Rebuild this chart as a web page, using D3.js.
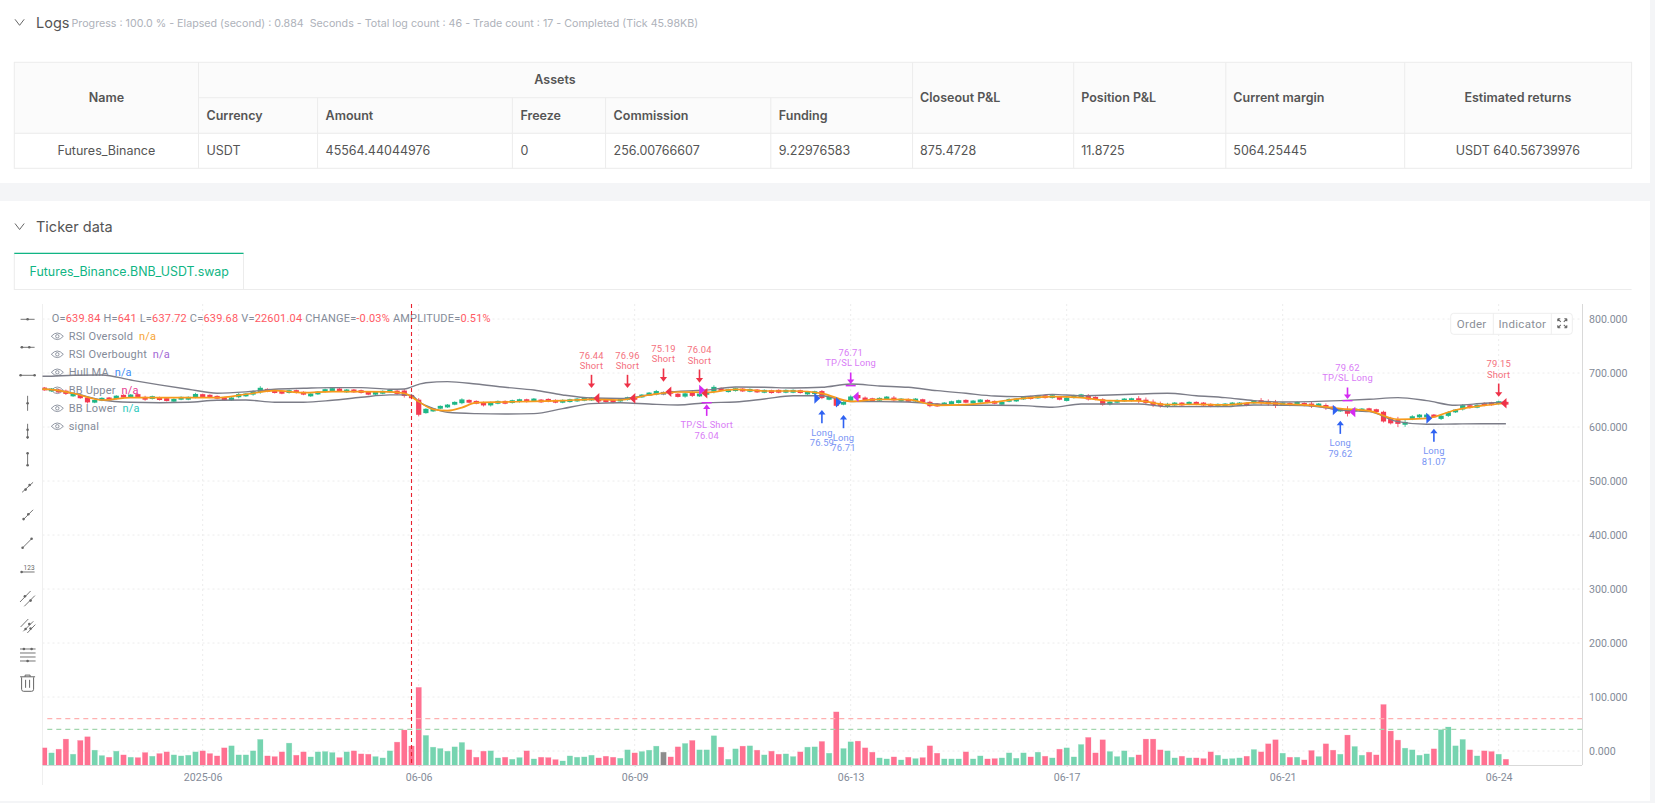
<!DOCTYPE html>
<html>
<head>
<meta charset="utf-8">
<style>
  html, body { margin: 0; padding: 0; background: #f4f5f7; }
  svg { display: block; }
  text { white-space: pre; }
</style>
<script src="https://cdn.jsdelivr.net/npm/d3@7"></script>
</head>
<body>
<div id="page"></div>
<script>
// table at the top of the page
const progressText = "Progress : 100.0 % - Elapsed (second) : 0.884  Seconds - Total log count : 46 - Trade count : 17 - Completed (Tick 45.98KB)";
const assetColumns = ["Currency", "Amount", "Freeze", "Commission", "Funding"];
const assetValues = ["USDT", "45564.44044976", "0", "256.00766607", "9.22976583"];
const sideColumns = ["Closeout P&L", "Position P&L", "Current margin"];
const sideValues = ["875.4728", "11.8725", "5064.25445"];

// x axis
const tickIndex = [22, 52, 82, 112, 142, 172, 202];
const tickLabels = ["2025-06", "06-06", "06-09", "06-13", "06-17", "06-21", "06-24"];
const priceTicks = [0, 100, 200, 300, 400, 500, 600, 700, 800];
const rsiOverbought = 60;
const rsiOversold = 40;
const hoverIndex = 51;

// R = down, G = up, N = flat
const barSides = ("RGRRGRRGGRGRGRRGRRGGGGRRRRGGGGGRRRGRRGGGGRGRRRGGGR" +
  "RRRGGGGGGRRRGGRGGRGRRRGGGGGRRRGGRGGGNRRGRGGGRGGRGRGRRGGR" +
  "GGRGRGGRRRGGRGRGRRRGGGRGGRRGGGGRGRGRGGGRRRGGGGRRRRGGRGR" +
  "RRGGGGRGRRRGRGRRGRRGRGGRRRRRGGGGRGGGGRGRRGR").split("");

// volume, thousands
const volumes = [
  20.4,14.4,18.8,30.8,12.8,29.2,33.6,17.6,11.2,9.2,16.4,12,9.2,8.8,14.8,10.4,13.6,15.6,12,10.8,
  11.6,15.6,16.8,13.6,10.8,20.4,22.8,12,12,16.8,30.4,10.8,10,15.6,26,11.6,15.6,9.6,15.6,16,
  14.8,8.8,15.6,16.8,13.2,12.8,10,8.4,16.8,27.2,
  41.6,22.6,92.4,35.2,21.2,19.6,16.4,21.6,26.8,18,9.2,16.4,16.8,8.4,9.2,6.8,8.8,16.8,7.2,9.2,
  8.8,6.4,4.8,10.8,9.2,9.6,11.6,8.4,10.4,9.2,8,18,14.4,16,17.6,22.4,15.2,9.6,21.6,25.6,
  29.2,18,18,34.8,21.2,6.8,19.2,22.4,22.8,17.6,12,16.4,12.8,13.2,10,15.6,
  21.2,21.6,28,14,63.2,19.6,27.6,28.4,20.4,15.2,8.4,7.2,9.6,6,9.2,7.6,8.8,22.8,14,7.2,
  7.2,7.2,15.6,7.2,10.8,7.2,7.6,8.4,14.4,8,14.4,9.6,15.2,10.4,8.4,18.8,20.4,9.6,24.4,32.8,
  14.4,30,16,10,16.8,9.2,12,30.8,30.8,18,16.8,8.4,10.4,8.4,8.4,
  7.6,15.6,11.6,7.2,7.6,8.4,10.4,18.4,15.6,25.2,30,14,9.2,9.2,6,17.2,10,25.2,17.6,12.8,
  35.6,22,11.6,15.2,12,72,40.4,29.6,20,18,11.6,13.2,19.2,42,45.2,22.8,30.4,18,10.8,16.8,
  16,12.8,6.8
];

// candle centre price
const candleMid = [
  670.5,668.6,666.8,664.3,659.4,656.3,650.1,647.7,651.4,652,
  655,657,657.5,658.2,653.2,654.5,652.6,650.8,649.5,653.2,
  653.2,658.2,658.2,657,655,652,652,658.2,659.4,663,
  668.6,668,665.6,664.3,665.6,665.6,662.5,659.4,663,667.4,
  669.3,668.6,666.8,666.8,665.6,662.5,662.5,664.3,666.8,664.3,
  662.5,656.3,636.6,629.7,631.5,636.5,638.9,643.9,647.6,647.6,
  645.7,642.6,642.6,645.7,645.7,647,648.8,648.8,650,648.2,
  649.4,647.6,647.6,648.8,650,651.3,651.9,650,648.8,647.6,
  650,652.5,653.1,657.4,661.1,663.6,662.4,664.2,658.7,659.3,
  661.1,659.3,662.4,669.8,669.8,667.3,669.2,668.5,667.9,666.7,
  666.1,665.5,666.1,666.1,666.1,665.5,663,663.6,660,653.1,
  646.3,643.9,652.5,656.2,651.9,650.6,651.3,653.7,651.9,650,
  649.4,650,648.8,642.6,640.8,642.6,645.1,647,647.6,646.3,
  648.2,647.6,645.7,643.9,649.4,650,653.7,654.4,655.6,656.2,
  656.2,653.1,651.3,656.2,657.4,655,653.1,646.3,644.5,647.6,
  650,650.6,650.6,647.6,643.9,641.4,640.2,642.6,642.6,643.9,
  643.9,642.6,640.2,640.2,640.8,642.6,642.6,642,646.3,647,
  645.1,642.6,642.6,642,643.9,642,640.8,640.8,637.7,635.2,
  631.5,629,631.5,631.5,632,630.3,619.2,611.8,609.3,606.8,
  617.3,620.4,620.4,620.4,618,624.1,629.7,636.5,637.7,638.3,
  642,643,645,644
];
const candleBody = [
  5,3,5,6,3,6,9,4,3,3, 6,4,3,3,5,3,4,4,3,4, 3,6,4,3,4,5,5,6,3,6, 8,3,3,4,5,3,5,3,5,5,
  4,3,4,4,4,4,3,3,5,6, 10,6,28,8,5,5,4,5,7,4, 3,5,5,3,3,2,3,5,3,3, 3,2,2,4,3,3,4,3,4,3,
  3,5,4,5,5,6,5,3,6,6, 7,5,5,9,5,2,5,5,5,4, 3,4,3,3,3,4,5,5,13,4, 14,5,8,6,5,4,2,2,3,2,
  3,2,3,8,4,2,2,2,5,2, 3,2,3,3,5,2,5,3,5,3, 2,5,6,3,6,8,4,10,5,3, 5,3,4,6,6,5,5,2,3,2,
  3,2,4,3,2,2,2,3,5,4, 6,7,4,3,3,2,5,3,6,5, 4,9,5,3,4,3,18,10,7,5, 5,3,4,5,6,7,5,8,5,3,
  5,4,3,3
];
const candleWick = [
  1,1,1,2,1,1,2,1,1,1, 1,1,1,1,2,1,1,1,1,1, 1,2,1,1,1,1,1,2,1,2, 3,1,1,1,1,1,1,1,1,1,
  1,1,1,1,1,1,1,1,1,2, 3,2,3,1,1,1,1,1,2,1, 1,2,2,1,1,1,1,1,1,1, 1,1,1,1,1,1,1,1,1,1,
  1,1,1,1,1,2,1,1,1,2, 2,1,1,3,1,1,1,1,1,1, 1,1,1,1,1,1,1,1,2,1, 2,1,2,2,2,1,1,1,3,1,
  1,1,1,2,1,1,1,1,1,1, 1,1,1,1,1,1,1,1,1,1, 1,1,1,1,1,2,1,2,2,1, 1,1,4,4,4,3,2,1,1,1,
  1,1,1,1,1,1,1,1,1,4, 3,4,1,1,1,1,3,1,3,1, 1,5,1,1,1,1,2,2,6,4, 2,1,3,1,2,2,1,2,1,1,
  1,1,1,1
];

// indicator lines as [bar, price]
const bbUpper = [[-1,694],[0,694],[4,695.8],[8,696.4],[12,687],[16,678],[20,670],[24,662.5],[28,665],[32,670],[36,671.7],[40,673],[44,673],[48,670],[50,670.5],[52,679],[53,682],[56,684],[60,679.6],[64,673.5],[68,668.5],[72,659.3],[76,653.7],[80,653],[84,659.3],[88,666],[92,668.5],[96,674],[100,673.5],[104,672.2],[108,673.5],[112,679.6],[116,676],[120,673.5],[124,667.3],[128,662.4],[132,657.4],[136,656.2],[140,660.5],[144,658],[148,659.3],[152,661],[156,662.4],[160,658],[164,654.4],[168,648.8],[172,646.3],[176,647],[180,648.8],[184,651.3],[188,654.4],[192,648.8],[196,640.2],[200,644],[203,646]];
const bbLower = [[-1,670],[0,670],[4,662.5],[8,650],[12,645.8],[16,645],[20,645.8],[24,649.5],[28,650],[32,645.8],[36,645.8],[40,649.5],[44,655],[48,659.4],[50,659.4],[51,659],[52,647],[54,634.6],[56,627.2],[60,624.7],[64,624],[68,624.7],[72,634],[76,643.2],[80,645],[84,642.6],[88,640.8],[92,645],[96,646.3],[100,651.9],[104,658],[108,658],[112,647],[116,647],[120,646.3],[124,642.6],[128,640.2],[132,640.2],[136,639.5],[140,636.5],[144,642.6],[148,642.6],[152,642.6],[156,637.7],[160,637.7],[164,637.7],[168,640.8],[172,640.2],[176,639],[180,631.5],[184,628.4],[188,610],[192,605],[196,605.6],[200,606],[203,606]];
const hullMa = [[-1,670],[0,670],[4,662.5],[8,650],[12,654.5],[16,654.5],[20,654.5],[24,654.5],[28,660.6],[32,667.4],[36,663.7],[40,665.6],[44,665.6],[48,665],[50,662.5],[52,647],[54,632.7],[56,630.3],[58,636],[60,645],[64,646.3],[68,647.6],[72,648.8],[76,651.3],[80,650],[84,659.3],[88,664.8],[92,664.2],[96,669.8],[100,666.7],[104,666.7],[108,662.4],[112,647.6],[116,651.3],[120,650.6],[124,640.2],[128,641.4],[132,646.3],[136,653.1],[140,656.2],[144,654.4],[148,648.8],[152,648.2],[156,641.4],[160,642],[164,640.8],[168,645],[172,642.6],[176,640.2],[180,634],[184,629.7],[188,614.3],[192,616],[196,631.5],[200,640],[203,644]];

// trades: arrow bar, kind, price at the arrow tip, fill price, text lines
const tradeBars = [76, 81, 86, 91, 92, 108, 111, 112, 180, 181, 193, 202];
const tradeKinds = ["short", "short", "short", "short", "tpShort", "long", "long", "tpLong", "long", "tpLong", "long", "short"];
const tradeTips = [672.2, 672.2, 683.9, 682, 645, 631.5, 622.2, 676.5, 611.7, 648.7, 596.9, 656];
const tradeFills = [653.1, 653.1, 665.4, 662.4, 668.5, 653.1, 645.7, 656.1, 631.5, 627.8, 616, 643.9];
const tradeInner = ["Short", "Short", "Short", "Short", "TP/SL Short", "Long", "Long", "TP/SL Long", "Long", "TP/SL Long", "Long", "Short"];
const tradeOuter = ["76.44", "76.96", "75.19", "76.04", "76.04", "76.59", "76.71", "76.71", "79.62", "79.62", "81.07", "79.15"];

// hover legend
const ohlcLabels = ["O=", " H=", " L=", " C=", " V=", " CHANGE=", " AMPLITUDE="];
const ohlcValues = ["639.84", "641", "637.72", "639.68", "22601.04", "-0.03%", "0.51%"];
const legendNames = ["RSI Oversold", "RSI Overbought", "Hull MA", "BB Upper", "BB Lower", "signal"];
const legendValues = ["n/a", "n/a", "n/a", "n/a", "n/a", ""];
const legendColors = ["#f7a535", "#a267d4", "#3f8cf5", "#e6398f", "#2cc9bd", "#888"];

const INTER = "Inter, 'Noto Sans', sans-serif";
const ROBOTO = "Roboto, 'Noto Sans', sans-serif";
const GREY = "#848b99";

const tradeStyle = {
  short:   { mark: "#ee3248", label: "#f4707d" },
  long:    { mark: "#2f62f2", label: "#7894f4" },
  tpShort: { mark: "#d42bf2", label: "#d97cf6" },
  tpLong:  { mark: "#d42bf2", label: "#d97cf6" }
};

const svg = d3.select("#page").append("svg")
  .attr("width", 1655)
  .attr("height", 803);

function label(parent, x, y, str, opts) {
  const o = opts || {};
  return parent.append("text")
    .attr("x", x)
    .attr("y", y)
    .attr("dy", "0.35em")
    .attr("text-anchor", o.anchor || "start")
    .attr("font-family", o.family || INTER)
    .attr("font-size", o.size || 12.5)
    .attr("font-weight", o.weight || 400)
    .attr("letter-spacing", o.spacing || 0)
    .attr("fill", o.fill || "#555")
    .text(str);
}

// page panels
svg.append("rect").attr("width", 1655).attr("height", 803).attr("fill", "#f4f5f7");
svg.append("rect").attr("width", 1650).attr("height", 183).attr("fill", "#fff");
svg.append("rect").attr("y", 201).attr("width", 1650).attr("height", 600).attr("fill", "#fff");

function chevron(cx, cy) {
  svg.append("path")
    .attr("d", `M${cx - 4.6},${cy - 3} L${cx},${cy + 3} L${cx + 4.6},${cy - 3}`)
    .attr("fill", "none")
    .attr("stroke", "#666")
    .attr("stroke-width", 1);
}

chevron(19.6, 22.3);
chevron(19.6, 226.5);
label(svg, 36, 22.7, "Logs", { size: 14.5, fill: "#555" });
label(svg, 71.5, 23.3, progressText, { size: 10.7, fill: "#aeb2ba" });
label(svg, 36, 227, "Ticker data", { size: 14.5, fill: "#555" });

// assets table
const table = svg.append("g");
const colEdges = [14.3, 198.5, 317.6, 512.4, 605.6, 770.8, 912.6, 1073.7, 1225.8, 1404.7, 1631.6];
table.append("rect").attr("x", 14.3).attr("y", 62.3).attr("width", 1617.3).attr("height", 71).attr("fill", "#fbfbfb");
table.append("rect").attr("x", 14.3).attr("y", 62.3).attr("width", 1617.3).attr("height", 106).attr("fill", "none").attr("stroke", "#ececec");
table.append("line").attr("x1", 198.5).attr("x2", 912.6).attr("y1", 97.7).attr("y2", 97.7).attr("stroke", "#ececec");
table.append("line").attr("x1", 14.3).attr("x2", 1631.6).attr("y1", 133.3).attr("y2", 133.3).attr("stroke", "#ececec");
colEdges.slice(1, -1).forEach((x, i) => {
  // asset sub columns only start under the Assets header
  const top = (i >= 1 && i <= 4) ? 97.7 : 62.3;
  table.append("line").attr("x1", x).attr("x2", x).attr("y1", top).attr("y2", 168.3).attr("stroke", "#ececec");
});

const headStyle = { weight: 600, fill: "#555" };
label(table, 106.4, 97.7, "Name", { ...headStyle, anchor: "middle" });
label(table, 555, 79.7, "Assets", { ...headStyle, anchor: "middle" });
label(table, 106.4, 150.7, "Futures_Binance", { anchor: "middle" });
assetColumns.forEach((c, i) => {
  label(table, colEdges[i + 1] + 8, 115.7, c, headStyle);
  label(table, colEdges[i + 1] + 8, 150.7, assetValues[i]);
});
sideColumns.forEach((c, i) => {
  label(table, colEdges[i + 6] + 7.5, 97.7, c, headStyle);
  label(table, colEdges[i + 6] + 7.5, 150.7, sideValues[i]);
});
label(table, 1517.9, 97.7, "Estimated returns", { ...headStyle, anchor: "middle" });
label(table, 1517.9, 150.7, "USDT 640.56739976", { anchor: "middle" });

// tab
svg.append("line").attr("x1", 14.3).attr("x2", 1631.6).attr("y1", 289.5).attr("y2", 289.5).attr("stroke", "#ececec");
svg.append("rect").attr("x", 14.3).attr("y", 253.3).attr("width", 229.2).attr("height", 36.2).attr("fill", "#fff").attr("stroke", "#ececec");
svg.append("line").attr("x1", 14.3).attr("x2", 243.5).attr("y1", 253.3).attr("y2", 253.3).attr("stroke", "#10b584").attr("stroke-width", 1.2);
label(svg, 29.6, 271.7, "Futures_Binance.BNB_USDT.swap", { size: 12.4, fill: "#10b584" });

// chart scales
const x = d3.scaleLinear().domain([0, 203]).range([44.3, 1505.9]);
const y = d3.scaleLinear().domain([0, 800]).range([751, 319]);
const vol = d3.scaleLinear().domain([0, 100]).range([765, 681]);

const plot = { left: 42.5, right: 1582, top: 304, bottom: 765 };

svg.append("defs").append("clipPath").attr("id", "plot-clip")
  .append("rect")
  .attr("x", plot.left).attr("y", plot.top)
  .attr("width", plot.right - plot.left).attr("height", plot.bottom - plot.top);

// grid
const grid = svg.append("g").attr("stroke", "#ececec").attr("stroke-dasharray", "2,3");
grid.selectAll(".gy").data(priceTicks).enter().append("line")
  .attr("x1", plot.left).attr("x2", plot.right)
  .attr("y1", d => y(d)).attr("y2", d => y(d));
grid.selectAll(".gx").data(tickIndex).enter().append("line")
  .attr("x1", d => x(d)).attr("x2", d => x(d))
  .attr("y1", plot.top).attr("y2", plot.bottom);

// frame
svg.append("line").attr("x1", plot.left).attr("x2", plot.left).attr("y1", plot.top).attr("y2", 785).attr("stroke", "#efefef");

// axes
const yAxis = svg.append("g")
  .attr("transform", `translate(${plot.right},0)`)
  .call(d3.axisRight(y).tickValues(priceTicks).tickFormat(d3.format(".3f")).tickSize(0).tickPadding(7));
yAxis.select(".domain").attr("d", `M0.5,${plot.top}V${plot.bottom}`).attr("stroke", "#d9d9d9");

const xAxis = svg.append("g")
  .attr("transform", `translate(0,${plot.bottom})`)
  .call(d3.axisBottom(x).tickValues(tickIndex).tickFormat((d, i) => tickLabels[i]).tickSize(2).tickPadding(6));
xAxis.select(".domain").attr("d", `M${plot.left},0.5H${plot.right}`).attr("stroke", "#d9d9d9");
xAxis.selectAll(".tick line").attr("stroke", "#d9d9d9");

[yAxis, xAxis].forEach(a => {
  a.selectAll("text")
    .attr("font-family", ROBOTO)
    .attr("font-size", 10.6)
    .attr("fill", GREY);
});

// legend sits under the series
const legend = svg.append("g");
const ohlcText = label(legend, 51.7, 318.3, "", { family: ROBOTO, size: 11, spacing: 0.18, fill: GREY });
ohlcLabels.forEach((l, i) => {
  ohlcText.append("tspan").text(l).attr("fill", GREY);
  ohlcText.append("tspan").text(ohlcValues[i]).attr("fill", "#ff5a64");
});
legendNames.forEach((name, i) => {
  const rowY = 336.3 + i * 18;
  const eye = legend.append("g").attr("transform", `translate(57.3,${rowY})`)
    .attr("fill", "none").attr("stroke", GREY).attr("stroke-width", 0.9);
  eye.append("path").attr("d", "M-6,0 Q0,-6.6 6,0 Q0,6.6 -6,0 Z");
  eye.append("circle").attr("r", 1.7);
  const t = label(legend, 68.7, rowY, name + "  ", { family: ROBOTO, size: 11, spacing: 0.18, fill: GREY });
  t.append("tspan").text(legendValues[i]).attr("fill", legendColors[i]);
});

// drawing tools on the left
const tools = [
  { lines: [[-7, 0, 7, 0]], dots: [[0, 0]] },
  { lines: [[-7, 0, 7, 0]], dots: [[-5.7, 0], [1.7, 0]] },
  { lines: [[-7, 0, 7, 0]], dots: [[-7, 0], [7, 0]] },
  { lines: [[0, -7.5, 0, 7.5]], dots: [[0, 0]] },
  { lines: [[0, -7.5, 0, 7.5]], dots: [[0, -1.5], [0, 6]] },
  { lines: [[0, -6, 0, 6]], dots: [[0, -6], [0, 6]] },
  { lines: [[-5.5, 5, 5.5, -5]], dots: [[-2, 2.3], [2, -2.3]] },
  { lines: [[-4.5, 4.5, 5.5, -5.5]], dots: [[-4, 3.8], [0.7, -1]] },
  { lines: [[-5, 4.5, 4, -4.5]], dots: [[-5, 4.5], [4, -4.5]] },
  { lines: [[-6.3, 0.7, 7, 0.7]], dots: [[-6, 0.7]], digits: true },
  { lines: [[-7.6, 2.7, 3, -8.3], [-3.3, 7, 7.3, -3.7]], dots: [[-2.7, -3], [3, 1.3]] },
  { lines: [[-7, -0.3, 0.7, -8.3], [-4.3, 4, 5.7, -6], [-0.3, 5.7, 7.7, -2.7]], dots: [[-2, 1.7], [1.7, -3.3], [3, 1.3]] },
  { lines: [[-7.6, -6.3, 8, -6.3], [-7.6, -2.3, 8, -2.3], [-7.6, 1.7, 8, 1.7], [-7.6, 5.7, 8, 5.7]], dots: [[-3.7, -6.3], [4, -6.3], [0, 5.7]] }
];
const toolbar = svg.append("g").attr("stroke", "#666").attr("fill", "#666");
tools.forEach((tool, i) => {
  const g = toolbar.append("g").attr("transform", `translate(27.6,${319.3 + i * 28})`);
  tool.lines.forEach(l => {
    g.append("line").attr("x1", l[0]).attr("y1", l[1]).attr("x2", l[2]).attr("y2", l[3]).attr("stroke-width", 0.9);
  });
  tool.dots.forEach(d => {
    g.append("circle").attr("cx", d[0]).attr("cy", d[1]).attr("r", 1.3).attr("stroke", "none");
  });
  if (tool.digits) {
    g.append("text").attr("x", 1.5).attr("y", -1).attr("text-anchor", "middle").attr("font-size", 6.5)
      .attr("font-family", ROBOTO).attr("stroke", "none").text("123");
  }
});
toolbar.append("path")
  .attr("transform", "translate(27.6,683.3)")
  .attr("fill", "none")
  .attr("stroke-width", 1)
  .attr("d", "M-7.5,-6.5H7.5 M-2.5,-6.5V-8.2H2.5V-6.5 M-6,-6V6Q-6,8 -4,8H4Q6,8 6,6V-6 M-2,-3.5V4.5 M2,-3.5V4.5");

// chart controls
const controls = svg.append("g");
controls.append("rect").attr("x", 1450.7).attr("y", 313.3).attr("width", 121.6).attr("height", 21).attr("rx", 3)
  .attr("fill", "#fff").attr("stroke", "#eeeeee");
[1493.3, 1551.3].forEach(sx => {
  controls.append("line").attr("x1", sx).attr("x2", sx).attr("y1", 313.3).attr("y2", 334.3).attr("stroke", "#eeeeee");
});
label(controls, 1471.7, 323.6, "Order", { family: ROBOTO, anchor: "middle", size: 11.5, spacing: 0.3, fill: "#8b8f98" });
label(controls, 1522.3, 323.6, "Indicator", { family: ROBOTO, anchor: "middle", size: 11.5, spacing: 0.3, fill: "#8b8f98" });
controls.append("path")
  .attr("transform", "translate(1562.3,323.3)")
  .attr("fill", "none").attr("stroke", "#666").attr("stroke-width", 1.1)
  .attr("d", "M-4.5,-4.5L-1.5,-1.5 M-4.5,-4.5H-2 M-4.5,-4.5V-2 M4.5,-4.5L1.5,-1.5 M4.5,-4.5H2 M4.5,-4.5V-2 M-4.5,4.5L-1.5,1.5 M-4.5,4.5H-2 M-4.5,4.5V2 M4.5,4.5L1.5,1.5 M4.5,4.5H2 M4.5,4.5V2");

// series
const series = svg.append("g").attr("clip-path", "url(#plot-clip)");

const volumeColor = { R: "#ff7191", G: "#76d4b0", N: "#8c8c8c" };
series.selectAll(".vol").data(volumes).enter().append("rect")
  .attr("class", "vol")
  .attr("x", (d, i) => x(i) - 2.7)
  .attr("width", 5.4)
  .attr("y", d => vol(d))
  .attr("height", d => vol(0) - vol(d))
  .attr("fill", (d, i) => volumeColor[barSides[i]])
  .attr("stroke", (d, i) => volumeColor[barSides[i]])
  .attr("stroke-opacity", 0.35)
  .attr("stroke-width", 0.6);

[[rsiOverbought, "#ffb0b0"], [rsiOversold, "#a3d6ae"]].forEach(([level, color]) => {
  series.append("line")
    .attr("x1", 47.3).attr("x2", plot.right)
    .attr("y1", y(level)).attr("y2", y(level))
    .attr("stroke", color).attr("stroke-width", 1.4).attr("stroke-dasharray", "5,4");
});

const candleColor = { R: "#f43b52", G: "#1fb787", N: "#888" };
const minBodyPx = 2.8;
const bodyPx = (d, i) => Math.max(y(d - candleBody[i] / 2) - y(d + candleBody[i] / 2), minBodyPx);
const candles = series.selectAll(".candle").data(candleMid).enter().append("g").attr("class", "candle");
candles.append("line")
  .attr("x1", (d, i) => x(i)).attr("x2", (d, i) => x(i))
  .attr("y1", (d, i) => y(d) - bodyPx(d, i) / 2 - candleWick[i] * 0.54)
  .attr("y2", (d, i) => y(d) + bodyPx(d, i) / 2 + candleWick[i] * 0.54)
  .attr("stroke", (d, i) => candleColor[barSides[i]])
  .attr("stroke-width", 0.8);
candles.append("rect")
  .attr("x", (d, i) => x(i) - 2.6)
  .attr("width", 5.2)
  .attr("y", (d, i) => y(d) - bodyPx(d, i) / 2)
  .attr("height", (d, i) => bodyPx(d, i))
  .attr("fill", (d, i) => candleColor[barSides[i]]);

const priceLine = d3.line()
  .x(d => x(d[0]))
  .y(d => y(d[1]))
  .curve(d3.curveMonotoneX);

series.append("path").attr("d", priceLine(bbUpper)).attr("fill", "none").attr("stroke", "#7c7d88").attr("stroke-width", 1.4);
series.append("path").attr("d", priceLine(bbLower)).attr("fill", "none").attr("stroke", "#7c7d88").attr("stroke-width", 1.4);
series.append("path").attr("d", priceLine(hullMa)).attr("fill", "none").attr("stroke", "#f79a1c").attr("stroke-width", 1.7);

// trade markers
tradeBars.forEach((bar, i) => {
  const kind = tradeKinds[i];
  const style = tradeStyle[kind];
  const ax = x(bar);
  const tip = y(tradeTips[i]);
  const fy = y(tradeFills[i]);
  const isDown = kind === "short" || kind === "tpLong";
  const dir = isDown ? -1 : 1; // shaft goes away from the tip
  const g = svg.append("g");

  // filled triangle at the fill price
  const triX = isDown ? ax + 5 : ax - 4.7;
  const triPts = isDown
    ? [[triX - 3, fy], [triX + 2.8, fy - 5.3], [triX + 2.8, fy + 5.3]]
    : [[triX + 3, fy], [triX - 2.8, fy - 5.3], [triX - 2.8, fy + 5.3]];
  g.append("polygon").attr("points", triPts.join(" ")).attr("fill", style.mark);

  // arrow, with a bar at its tip for TP/SL
  const isTp = kind === "tpShort" || kind === "tpLong";
  const headStart = isTp ? tip + dir * 1.6 : tip;
  g.append("line")
    .attr("x1", ax).attr("x2", ax)
    .attr("y1", headStart + dir * 3).attr("y2", tip + dir * 13.2)
    .attr("stroke", style.mark).attr("stroke-width", 1.6);
  g.append("polygon")
    .attr("points", [[ax, headStart], [ax - 3.6, headStart + dir * 4.6], [ax + 3.6, headStart + dir * 4.6]].join(" "))
    .attr("fill", style.mark);
  if (isTp) {
    g.append("rect").attr("x", ax - 5).attr("width", 10).attr("y", tip - 0.7).attr("height", 1.4).attr("fill", style.mark);
  }

  // text lines run from the arrow's tail outward
  const textStyle = { family: ROBOTO, anchor: "middle", size: 9.4, spacing: 0.15, fill: style.label };
  label(g, ax, tip + dir * 22.5, tradeInner[i], textStyle);
  label(g, ax, tip + dir * 32.8, tradeOuter[i], textStyle);
});

// crosshair at the hovered bar
svg.append("line")
  .attr("x1", x(hoverIndex)).attr("x2", x(hoverIndex))
  .attr("y1", plot.top).attr("y2", plot.bottom)
  .attr("stroke", "#e8212e")
  .attr("stroke-width", 1.1)
  .attr("stroke-dasharray", "4,3");
</script>
</body>
</html>
